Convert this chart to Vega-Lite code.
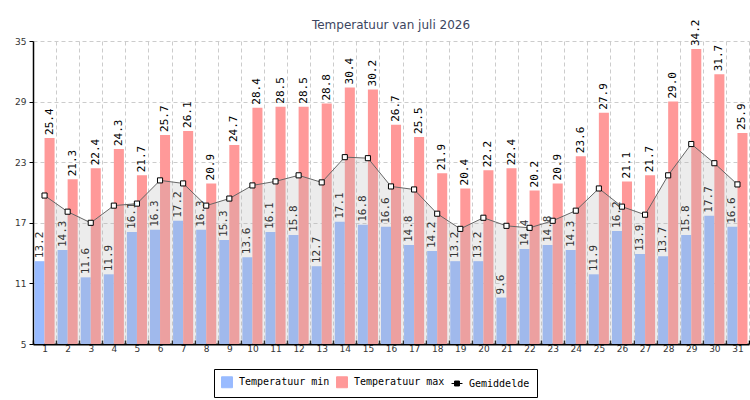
{
  "$schema": "https://vega.github.io/schema/vega-lite/v6.json",
  "autosize": "none",
  "width": 716,
  "height": 303,
  "padding": {"left": 33, "top": 41, "right": 1, "bottom": 56},
  "background": "#ffffff",
  "title": {
    "text": "Temperatuur van juli 2026",
    "font": "DejaVu Sans",
    "fontSize": 12,
    "fontWeight": "normal",
    "color": "#3c4560",
    "offset": 10,
    "dy": 22
  },
  "datasets": {
    "bars": [
      {"day": 1, "type": "Temperatuur min", "temp": 13.2}, {"day": 1, "type": "Temperatuur max", "temp": 25.4},
      {"day": 2, "type": "Temperatuur min", "temp": 14.3}, {"day": 2, "type": "Temperatuur max", "temp": 21.3},
      {"day": 3, "type": "Temperatuur min", "temp": 11.6}, {"day": 3, "type": "Temperatuur max", "temp": 22.4},
      {"day": 4, "type": "Temperatuur min", "temp": 11.9}, {"day": 4, "type": "Temperatuur max", "temp": 24.3},
      {"day": 5, "type": "Temperatuur min", "temp": 16.1}, {"day": 5, "type": "Temperatuur max", "temp": 21.7},
      {"day": 6, "type": "Temperatuur min", "temp": 16.3}, {"day": 6, "type": "Temperatuur max", "temp": 25.7},
      {"day": 7, "type": "Temperatuur min", "temp": 17.2}, {"day": 7, "type": "Temperatuur max", "temp": 26.1},
      {"day": 8, "type": "Temperatuur min", "temp": 16.3}, {"day": 8, "type": "Temperatuur max", "temp": 20.9},
      {"day": 9, "type": "Temperatuur min", "temp": 15.3}, {"day": 9, "type": "Temperatuur max", "temp": 24.7},
      {"day": 10, "type": "Temperatuur min", "temp": 13.6}, {"day": 10, "type": "Temperatuur max", "temp": 28.4},
      {"day": 11, "type": "Temperatuur min", "temp": 16.1}, {"day": 11, "type": "Temperatuur max", "temp": 28.5},
      {"day": 12, "type": "Temperatuur min", "temp": 15.8}, {"day": 12, "type": "Temperatuur max", "temp": 28.5},
      {"day": 13, "type": "Temperatuur min", "temp": 12.7}, {"day": 13, "type": "Temperatuur max", "temp": 28.8},
      {"day": 14, "type": "Temperatuur min", "temp": 17.1}, {"day": 14, "type": "Temperatuur max", "temp": 30.4},
      {"day": 15, "type": "Temperatuur min", "temp": 16.8}, {"day": 15, "type": "Temperatuur max", "temp": 30.2},
      {"day": 16, "type": "Temperatuur min", "temp": 16.6}, {"day": 16, "type": "Temperatuur max", "temp": 26.7},
      {"day": 17, "type": "Temperatuur min", "temp": 14.8}, {"day": 17, "type": "Temperatuur max", "temp": 25.5},
      {"day": 18, "type": "Temperatuur min", "temp": 14.2}, {"day": 18, "type": "Temperatuur max", "temp": 21.9},
      {"day": 19, "type": "Temperatuur min", "temp": 13.2}, {"day": 19, "type": "Temperatuur max", "temp": 20.4},
      {"day": 20, "type": "Temperatuur min", "temp": 13.2}, {"day": 20, "type": "Temperatuur max", "temp": 22.2},
      {"day": 21, "type": "Temperatuur min", "temp": 9.6}, {"day": 21, "type": "Temperatuur max", "temp": 22.4},
      {"day": 22, "type": "Temperatuur min", "temp": 14.4}, {"day": 22, "type": "Temperatuur max", "temp": 20.2},
      {"day": 23, "type": "Temperatuur min", "temp": 14.8}, {"day": 23, "type": "Temperatuur max", "temp": 20.9},
      {"day": 24, "type": "Temperatuur min", "temp": 14.3}, {"day": 24, "type": "Temperatuur max", "temp": 23.6},
      {"day": 25, "type": "Temperatuur min", "temp": 11.9}, {"day": 25, "type": "Temperatuur max", "temp": 27.9},
      {"day": 26, "type": "Temperatuur min", "temp": 16.2}, {"day": 26, "type": "Temperatuur max", "temp": 21.1},
      {"day": 27, "type": "Temperatuur min", "temp": 13.9}, {"day": 27, "type": "Temperatuur max", "temp": 21.7},
      {"day": 28, "type": "Temperatuur min", "temp": 13.7}, {"day": 28, "type": "Temperatuur max", "temp": 29.0},
      {"day": 29, "type": "Temperatuur min", "temp": 15.8}, {"day": 29, "type": "Temperatuur max", "temp": 34.2},
      {"day": 30, "type": "Temperatuur min", "temp": 17.7}, {"day": 30, "type": "Temperatuur max", "temp": 31.7},
      {"day": 31, "type": "Temperatuur min", "temp": 16.6}, {"day": 31, "type": "Temperatuur max", "temp": 25.9}
    ],
    "avg": [
      {"day": 1, "avg": 19.7}, {"day": 2, "avg": 18.1}, {"day": 3, "avg": 17.0}, {"day": 4, "avg": 18.7},
      {"day": 5, "avg": 18.9}, {"day": 6, "avg": 21.2}, {"day": 7, "avg": 20.9}, {"day": 8, "avg": 18.7},
      {"day": 9, "avg": 19.4}, {"day": 10, "avg": 20.7}, {"day": 11, "avg": 21.1}, {"day": 12, "avg": 21.7},
      {"day": 13, "avg": 21.0}, {"day": 14, "avg": 23.5}, {"day": 15, "avg": 23.4}, {"day": 16, "avg": 20.6},
      {"day": 17, "avg": 20.3}, {"day": 18, "avg": 17.9}, {"day": 19, "avg": 16.4}, {"day": 20, "avg": 17.5},
      {"day": 21, "avg": 16.7}, {"day": 22, "avg": 16.5}, {"day": 23, "avg": 17.2}, {"day": 24, "avg": 18.2},
      {"day": 25, "avg": 20.4}, {"day": 26, "avg": 18.6}, {"day": 27, "avg": 17.8}, {"day": 28, "avg": 21.7},
      {"day": 29, "avg": 24.8}, {"day": 30, "avg": 22.9}, {"day": 31, "avg": 20.8}
    ]
  },
  "encoding": {
    "x": {
      "field": "day",
      "type": "ordinal",
      "scale": {"paddingInner": 0, "paddingOuter": 0},
      "axis": {
        "title": null,
        "labelAngle": 0,
        "labelFont": "DejaVu Sans",
        "labelFontSize": 9,
        "labelColor": "#333333",
        "labelPadding": 4,
        "tickBand": "extent",
        "tickSize": -4,
        "tickColor": "#000000",
        "tickWidth": 1.5,
        "domainColor": "#000000",
        "domainWidth": 2,
        "grid": true,
        "gridColor": "#cccccc",
        "gridDash": [4, 3],
        "gridWidth": 1
      }
    }
  },
  "layer": [
    {
      "data": {"name": "bars"},
      "mark": {"type": "bar"},
      "encoding": {
        "xOffset": {
          "field": "type",
          "type": "nominal",
          "sort": ["Temperatuur min", "Temperatuur max"],
          "scale": {"paddingInner": 0, "paddingOuter": 0.15}
        },
        "y": {
          "field": "temp",
          "type": "quantitative",
          "scale": {"domain": [5, 35], "nice": false, "zero": false},
          "axis": {
            "title": null,
            "values": [5, 6.5, 8, 9.5, 11, 12.5, 14, 15.5, 17, 18.5, 20, 21.5, 23, 24.5, 26, 27.5, 29, 30.5, 32, 33.5, 35],
            "labelExpr": "(datum.value - 5) % 6 === 0 ? datum.value : ''",
            "labelFont": "DejaVu Sans",
            "labelFontSize": 9,
            "labelColor": "#333333",
            "labelPadding": 3,
            "tickColor": "#000000",
            "tickSize": {"condition": {"test": "(datum.value - 5) % 6 === 0", "value": 4}, "value": -4},
            "domainColor": "#000000",
            "domainWidth": 1.5,
            "grid": true,
            "gridColor": "#cccccc",
            "gridDash": [4, 3],
            "gridOpacity": {"condition": {"test": "(datum.value - 5) % 6 === 0 && datum.value > 5", "value": 1}, "value": 0}
          }
        },
        "y2": {"datum": 5},
        "color": {
          "field": "type",
          "type": "nominal",
          "scale": {
            "domain": ["Temperatuur min", "Temperatuur max", "Gemiddelde"],
            "range": ["#99bbff", "#ff9999", "#000000"]
          },
          "legend": {
            "title": null,
            "orient": "none",
            "direction": "horizontal",
            "legendX": 181,
            "legendY": 328,
            "strokeColor": "#000000",
            "fillColor": "#ffffff",
            "padding": 7,
            "labelFont": "DejaVu Sans Mono",
            "labelFontSize": 10,
            "labelColor": "#000000",
            "labelOffset": 6,
            "columnPadding": 4,
            "symbolSize": 120,
            "symbolStrokeColor": "#000000",
            "symbolStrokeWidth": 1,
            "encode": {
              "symbols": {
                "update": {
                  "shape": {"signal": "datum.value === 'Gemiddelde' ? 'M-1,0H-0.45M0.45,0H1M-0.45,-0.45H0.45V0.45H-0.45Z' : 'square'"},
                  "fill": {"signal": "datum.value === 'Gemiddelde' ? '#ffffff' : (datum.value === 'Temperatuur min' ? '#99bbff' : '#ff9999')"},
                  "stroke": {"value": "#000000"},
                  "strokeWidth": {"value": 1},
                  "opacity": {"value": 1},
                  "fillOpacity": {"value": 1}
                }
              }
            }
          }
        }
      }
    },
    {
      "data": {"name": "avg"},
      "mark": {"type": "area", "color": "#b4b4b4", "fillOpacity": 0.26},
      "encoding": {
        "y": {"field": "avg", "type": "quantitative"},
        "y2": {"datum": 5}
      }
    },
    {
      "data": {"name": "avg"},
      "mark": {"type": "line", "color": "#666666", "strokeWidth": 1},
      "encoding": {
        "y": {"field": "avg", "type": "quantitative"}
      }
    },
    {
      "data": {"name": "avg"},
      "mark": {"type": "point", "shape": "square", "filled": false, "fill": "#ffffff", "size": 26, "strokeWidth": 1, "opacity": 1},
      "encoding": {
        "y": {"field": "avg", "type": "quantitative"},
        "color": {
          "datum": "Gemiddelde",
          "legend": {
            "title": null,
            "orient": "none",
            "direction": "horizontal",
            "legendX": 181,
            "legendY": 328,
            "strokeColor": "#000000",
            "fillColor": "#ffffff",
            "padding": 7,
            "labelFont": "DejaVu Sans Mono",
            "labelFontSize": 10,
            "labelColor": "#000000",
            "labelOffset": 6,
            "columnPadding": 4,
            "symbolSize": 120,
            "symbolStrokeColor": "#000000",
            "symbolStrokeWidth": 1,
            "encode": {
              "symbols": {
                "update": {
                  "shape": {"signal": "datum.value === 'Gemiddelde' ? 'M-1,0H-0.45M0.45,0H1M-0.45,-0.45H0.45V0.45H-0.45Z' : 'square'"},
                  "fill": {"signal": "datum.value === 'Gemiddelde' ? '#ffffff' : (datum.value === 'Temperatuur min' ? '#99bbff' : '#ff9999')"},
                  "stroke": {"value": "#000000"},
                  "strokeWidth": {"value": 1},
                  "opacity": {"value": 1},
                  "fillOpacity": {"value": 1}
                }
              }
            }
          }
        }
      }
    },
    {
      "data": {"name": "bars"},
      "mark": {"type": "text", "angle": 270, "align": "left", "baseline": "middle", "dx": 3, "font": "DejaVu Sans Mono", "fontSize": 11},
      "encoding": {
        "xOffset": {
          "field": "type",
          "type": "nominal",
          "sort": ["Temperatuur min", "Temperatuur max"],
          "scale": {"paddingInner": 0, "paddingOuter": 0.15}
        },
        "y": {"field": "temp", "type": "quantitative"},
        "text": {"field": "temp", "type": "quantitative", "format": ".1f"},
        "color": {"condition": {"test": "datum.type === 'Temperatuur min'", "value": "#333333"}, "value": "#000000"}
      }
    }
  ],
  "config": {
    "view": {"stroke": null}
  }
}
